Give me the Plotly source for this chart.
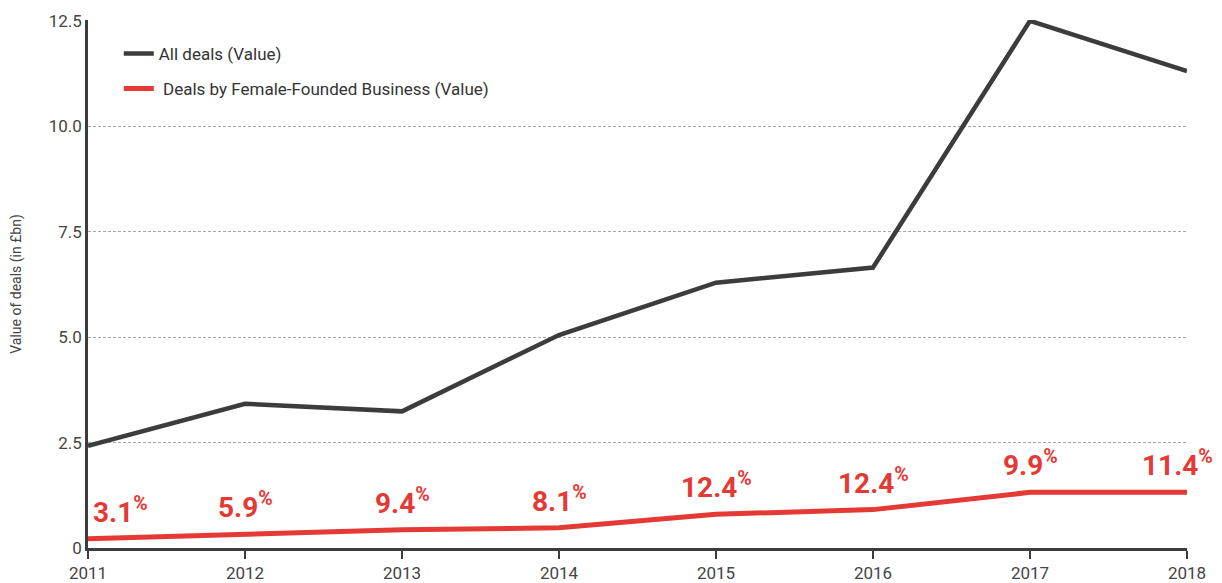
import plotly.graph_objects as go

years = [2011, 2012, 2013, 2014, 2015, 2016, 2017, 2018]
all_deals = [2.42, 3.42, 3.24, 5.05, 6.29, 6.65, 12.5, 11.31]
female_deals = [0.22, 0.33, 0.43, 0.48, 0.80, 0.91, 1.32, 1.32]
share_labels = ["3.1", "5.9", "9.4", "8.1", "12.4", "12.4", "9.9", "11.4"]
ytick_vals = [0, 2.5, 5.0, 7.5, 10.0, 12.5]
ytick_text = ["0", "2.5", "5.0", "7.5", "10.0", "12.5"]

FONT = "Roboto, 'DejaVu Sans Condensed', sans-serif"
DARK = "#3c3c3c"
RED = "#e53935"

fig = go.Figure()
fig.add_trace(go.Scatter(x=years, y=all_deals, mode="lines", name="All deals (Value)",
                         line=dict(color=DARK, width=4.5), legendgroup="a", cliponaxis=False))
fig.add_trace(go.Scatter(x=years, y=female_deals, mode="lines",
                         name=" Deals by Female-Founded Business (Value)",
                         line=dict(color=RED, width=5), legendgroup="b", cliponaxis=False))

for i, (yr, v, lab) in enumerate(zip(years, female_deals, share_labels)):
    xanchor = "center"
    xshift = 0
    if i == 0:
        xanchor = "left"
        xshift = 3
    elif i == len(years) - 1:
        xshift = -10
    fig.add_annotation(x=yr, y=v, text=f"<b>{lab}</b><sup><b>%</b></sup>", showarrow=False,
                       xanchor=xanchor, yanchor="bottom", xshift=xshift, yshift=8,
                       font=dict(family=FONT, size=28, color=RED))

# page body has an 8px default margin, so the figure is sized to fit the window
fig.update_layout(
    width=1214, height=575,
    margin=dict(l=80, r=35, t=12, b=35, autoexpand=False),
    paper_bgcolor="white", plot_bgcolor="white",
    font=dict(family=FONT, size=17, color="#444"),
    showlegend=True,
    legend=dict(x=0.028, y=0.97, xanchor="left", yanchor="top",
                font=dict(family=FONT, size=17, color="#333"),
                bgcolor="rgba(0,0,0,0)", tracegroupgap=10, traceorder="grouped"),
)
fig.update_xaxes(range=[2011, 2018], tickvals=years, ticktext=[str(y) for y in years],
                 automargin=False,
                 showgrid=False, showline=True, linecolor=DARK, linewidth=2.5,
                 ticks="outside", ticklen=8, tickwidth=2, tickcolor=DARK,
                 tickfont=dict(family=FONT, size=17, color="#444"), zeroline=False)
fig.update_yaxes(range=[0, 12.52], tickvals=ytick_vals, ticktext=ytick_text,
                 automargin=False,
                 showgrid=True, gridcolor="#a8a8a8", griddash="3px,2px", gridwidth=1,
                 showline=True, linecolor=DARK, linewidth=2.5, ticks="",
                 zeroline=False, tickfont=dict(family=FONT, size=17, color="#444"),
                 title=dict(text="Value of deals (in £bn)", font=dict(family=FONT, size=14, color="#444"),
                            standoff=24))
fig.write_html("out.html")
